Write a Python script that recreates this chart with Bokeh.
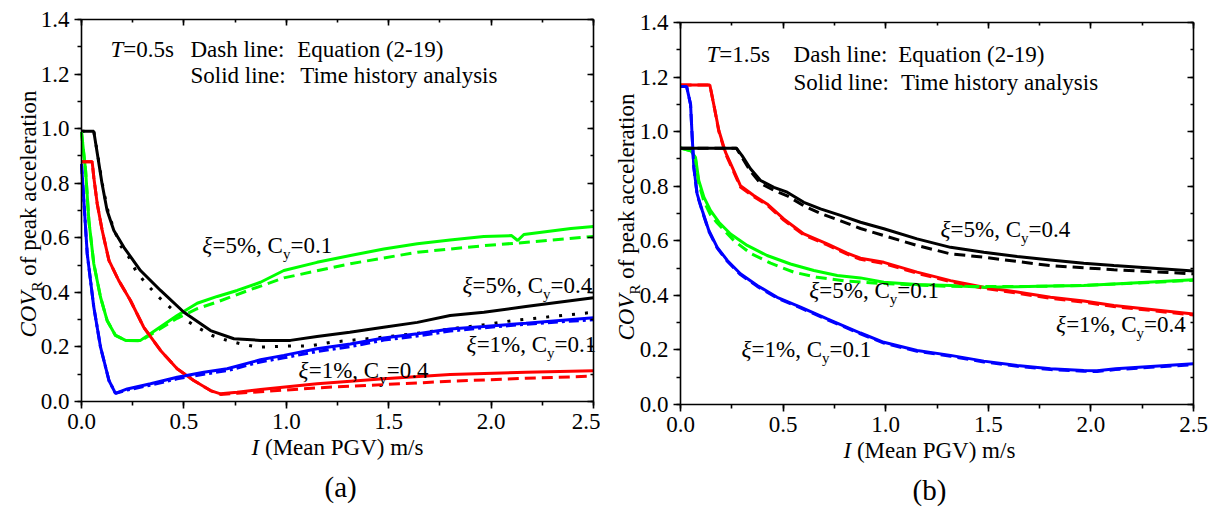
import math
from bokeh.plotting import figure
from bokeh.models import Range1d, LinearAxis, SingleIntervalTicker, PrintfTickFormatter, CustomJSTickFormatter, Label
from bokeh.layouts import row
from bokeh.embed import file_html
from bokeh.resources import INLINE

# ---------------- data: panel (a), T = 0.5 s ----------------
a_k_sol_x = [0, 0.06, 0.077, 0.10, 0.125, 0.158, 0.207, 0.288, 0.386, 0.50, 0.63, 0.744, 0.874, 1.02, 1.15, 1.31, 1.475, 1.64, 1.80, 1.965, 2.17, 2.5]
a_k_sol_y = [0.99, 0.99, 0.91, 0.80, 0.70, 0.627, 0.565, 0.48, 0.407, 0.327, 0.26, 0.23, 0.224, 0.224, 0.238, 0.254, 0.272, 0.29, 0.315, 0.327, 0.348, 0.38]
a_k_eq_x = [0, 0.06, 0.08, 0.106, 0.134, 0.187, 0.231, 0.269, 0.317, 0.378, 0.44, 0.50, 0.565, 0.638, 0.711, 0.79, 0.866, 1.0, 1.12, 1.216, 1.476, 1.64, 1.80, 1.964, 2.11, 2.5]
a_k_eq_y = [0.99, 0.99, 0.90, 0.779, 0.682, 0.575, 0.529, 0.474, 0.431, 0.382, 0.34, 0.303, 0.272, 0.242, 0.224, 0.209, 0.199, 0.203, 0.204, 0.217, 0.236, 0.25, 0.266, 0.281, 0.297, 0.327]

a_g_sol_x = [0, 0.02, 0.036, 0.06, 0.093, 0.125, 0.166, 0.215, 0.288, 0.37, 0.467, 0.565, 0.663, 0.76, 0.874, 0.988, 1.15, 1.313, 1.476, 1.64, 1.80, 1.964, 2.10, 2.13, 2.16, 2.39, 2.5]
a_g_sol_y = [0.987, 0.846, 0.663, 0.505, 0.382, 0.297, 0.242, 0.224, 0.224, 0.266, 0.315, 0.36, 0.385, 0.407, 0.437, 0.48, 0.51, 0.535, 0.559, 0.578, 0.592, 0.605, 0.608, 0.59, 0.612, 0.634, 0.641]
a_g_eq_x = [0, 0.02, 0.036, 0.06, 0.093, 0.125, 0.166, 0.215, 0.288, 0.37, 0.467, 0.565, 0.663, 0.825, 0.988, 1.313, 1.64, 1.964, 2.2, 2.5]
a_g_eq_y = [0.987, 0.846, 0.663, 0.505, 0.382, 0.297, 0.242, 0.224, 0.222, 0.26, 0.305, 0.34, 0.365, 0.41, 0.453, 0.505, 0.547, 0.571, 0.585, 0.605]

a_r_sol_x = [0, 0.052, 0.06, 0.077, 0.101, 0.134, 0.182, 0.239, 0.304, 0.386, 0.467, 0.548, 0.63, 0.679, 0.76, 0.874, 1.15, 1.476, 1.80, 2.17, 2.5]
a_r_sol_y = [0.879, 0.879, 0.822, 0.724, 0.627, 0.517, 0.443, 0.37, 0.272, 0.187, 0.12, 0.077, 0.04, 0.028, 0.034, 0.044, 0.065, 0.083, 0.099, 0.107, 0.113]
a_r_eq_x = [0, 0.052, 0.06, 0.077, 0.101, 0.134, 0.182, 0.239, 0.304, 0.386, 0.467, 0.548, 0.63, 0.679, 0.76, 0.874, 1.15, 1.476, 1.80, 2.17, 2.5]
a_r_eq_y = [0.879, 0.879, 0.822, 0.724, 0.627, 0.517, 0.443, 0.37, 0.272, 0.187, 0.12, 0.077, 0.04, 0.026, 0.03, 0.036, 0.05, 0.062, 0.074, 0.085, 0.093]

a_b_sol_x = [0, 0.028, 0.06, 0.093, 0.134, 0.166, 0.223, 0.337, 0.467, 0.597, 0.711, 0.874, 0.988, 1.15, 1.313, 1.476, 1.64, 1.80, 1.964, 2.17, 2.5]
a_b_sol_y = [0.871, 0.541, 0.346, 0.199, 0.077, 0.03, 0.046, 0.065, 0.089, 0.107, 0.12, 0.153, 0.169, 0.193, 0.211, 0.233, 0.248, 0.266, 0.275, 0.287, 0.307]
a_b_eq_x = [0, 0.028, 0.06, 0.093, 0.134, 0.166, 0.223, 0.337, 0.467, 0.597, 0.711, 0.874, 0.988, 1.15, 1.313, 1.476, 1.64, 1.80, 1.964, 2.17, 2.5]
a_b_eq_y = [0.871, 0.541, 0.346, 0.199, 0.077, 0.03, 0.042, 0.06, 0.083, 0.10, 0.113, 0.145, 0.16, 0.183, 0.201, 0.225, 0.24, 0.258, 0.27, 0.283, 0.30]

# ---------------- data: panel (b), T = 1.5 s ----------------
b_r_sol_x = [0, 0.143, 0.162, 0.187, 0.219, 0.252, 0.292, 0.357, 0.422, 0.503, 0.601, 0.715, 0.812, 0.877, 0.991, 1.153, 1.316, 1.478, 1.641, 1.803, 1.965, 2.112, 2.5]
b_r_sol_y = [1.171, 1.171, 1.10, 1.004, 0.925, 0.87, 0.802, 0.766, 0.735, 0.68, 0.625, 0.589, 0.555, 0.536, 0.521, 0.485, 0.454, 0.43, 0.412, 0.393, 0.379, 0.363, 0.332]
b_r_eq_x = [0, 0.143, 0.162, 0.187, 0.219, 0.252, 0.292, 0.357, 0.422, 0.503, 0.601, 0.715, 0.812, 0.877, 0.991, 1.153, 1.316, 1.478, 1.641, 1.803, 1.965, 2.112, 2.5]
b_r_eq_y = [1.171, 1.171, 1.10, 1.0, 0.92, 0.865, 0.797, 0.762, 0.731, 0.676, 0.621, 0.585, 0.551, 0.532, 0.517, 0.481, 0.45, 0.426, 0.408, 0.389, 0.375, 0.359, 0.328]

b_k_sol_x = [0, 0.273, 0.30, 0.341, 0.39, 0.455, 0.52, 0.601, 0.682, 0.78, 0.877, 0.991, 1.153, 1.316, 1.478, 1.641, 1.803, 1.965, 2.112, 2.5]
b_k_sol_y = [0.939, 0.939, 0.912, 0.864, 0.821, 0.796, 0.778, 0.741, 0.717, 0.693, 0.668, 0.644, 0.607, 0.576, 0.558, 0.542, 0.53, 0.518, 0.509, 0.489]
b_k_eq_x = [0, 0.273, 0.30, 0.341, 0.39, 0.455, 0.52, 0.601, 0.682, 0.78, 0.877, 0.991, 1.153, 1.316, 1.478, 1.641, 1.803, 1.965, 2.112, 2.5]
b_k_eq_y = [0.939, 0.939, 0.905, 0.855, 0.81, 0.785, 0.765, 0.728, 0.70, 0.673, 0.645, 0.619, 0.583, 0.552, 0.54, 0.524, 0.509, 0.501, 0.494, 0.479]

b_g_sol_x = [0, 0.05, 0.073, 0.089, 0.114, 0.146, 0.187, 0.244, 0.325, 0.422, 0.536, 0.65, 0.764, 0.877, 0.991, 1.153, 1.316, 1.478, 1.641, 1.803, 1.965, 2.112, 2.5]
b_g_sol_y = [0.94, 0.93, 0.906, 0.821, 0.76, 0.711, 0.668, 0.625, 0.583, 0.546, 0.515, 0.491, 0.473, 0.464, 0.448, 0.44, 0.436, 0.43, 0.432, 0.434, 0.436, 0.442, 0.457]
b_g_eq_x = [0, 0.05, 0.073, 0.089, 0.114, 0.146, 0.179, 0.26, 0.341, 0.439, 0.552, 0.666, 0.812, 0.991, 1.316, 1.641, 1.965, 2.5]
b_g_eq_y = [0.94, 0.93, 0.9, 0.81, 0.745, 0.695, 0.665, 0.601, 0.554, 0.518, 0.485, 0.466, 0.452, 0.443, 0.433, 0.432, 0.436, 0.455]

b_b_sol_x = [0, 0.03, 0.049, 0.057, 0.065, 0.081, 0.106, 0.138, 0.179, 0.228, 0.292, 0.374, 0.471, 0.585, 0.715, 0.877, 0.991, 1.153, 1.316, 1.478, 1.641, 1.803, 1.965, 2.03, 2.12, 2.5]
b_b_sol_y = [1.165, 1.165, 1.10, 0.98, 0.87, 0.772, 0.711, 0.638, 0.576, 0.528, 0.479, 0.436, 0.393, 0.357, 0.314, 0.262, 0.228, 0.198, 0.18, 0.159, 0.143, 0.131, 0.125, 0.124, 0.131, 0.149]
b_b_eq_x = [0, 0.03, 0.049, 0.057, 0.065, 0.081, 0.106, 0.138, 0.179, 0.228, 0.292, 0.374, 0.471, 0.585, 0.715, 0.877, 0.991, 1.153, 1.316, 1.478, 1.641, 1.803, 1.965, 2.03, 2.12, 2.5]
b_b_eq_y = [1.165, 1.165, 1.10, 0.98, 0.867, 0.769, 0.708, 0.635, 0.573, 0.525, 0.476, 0.433, 0.39, 0.354, 0.311, 0.259, 0.225, 0.195, 0.177, 0.156, 0.14, 0.128, 0.122, 0.121, 0.128, 0.146]

X_MIN, X_MAX = 0.0, 2.5
Y_MIN, Y_MAX = 0.0, 1.4
x_ticks_interval = 0.5
y_ticks_interval = 0.2

# ---------------- text helpers ----------------
FONT = "Liberation Serif"
FS = 23
BASE_FIX = 0.35   # renderer puts the alphabetic baseline this many em too low
WID = {' ': 250, '!': 333, '%': 833, '(': 333, ')': 333, ',': 250, '-': 333, '.': 250, '/': 278,
       ':': 278, '=': 564, 'A': 722, 'C': 667, 'D': 722, 'E': 611, 'G': 722, 'I': 333, 'M': 889,
       'O': 722, 'P': 556, 'R': 667, 'S': 556, 'T': 611, 'V': 722, 'a': 444, 'c': 444, 'd': 500,
       'e': 444, 'h': 500, 'i': 278, 'k': 500, 'l': 278, 'm': 778, 'n': 500, 'o': 500, 'p': 500,
       'q': 500, 'r': 333, 's': 389, 't': 278, 'u': 500, 'y': 500, 'v': 500, 'f': 333, 'ξ': 440}
WID_IT = {'C': 667, 'O': 722, 'V': 611, 'T': 556, 'I': 333, 'ξ': 440}


def tw(s, size, italic=False):
    tot = 0
    for c in s:
        if italic and c in WID_IT:
            tot += WID_IT[c]
        else:
            tot += WID.get(c, 500)
    return tot / 1000.0 * size


def rich(p, x, y, pieces, sx, sy, angle=0.0, align="left"):
    """Place a run of text pieces with baseline start at data point (x, y); offsets in pixels."""
    total = sum(tw(t, s, it) for t, s, it, _ in pieces)
    cur = -total / 2 if align == "center" else 0.0
    for text, size, italic, dy in pieces:
        lead = len(text) - len(text.lstrip(' '))
        cur += tw(' ' * lead, size, italic)
        t = text.strip(' ')
        down = dy - BASE_FIX * size
        if angle == 0:
            lx, ly = x + cur / sx, y - down / sy
        else:
            lx, ly = x + down / sx, y + cur / sy
        p.add_layout(Label(x=lx, y=ly, text=t, text_font=FONT, text_font_size=f"{size}px",
                           text_font_style="italic" if italic else "normal", angle=angle,
                           text_align="left", text_baseline="alphabetic", text_color="black"))
        cur += tw(t, size, italic)


def ann(p, x, y, damp, cy, sx, sy):
    rich(p, x, y, [("ξ", FS, True, 0), ("=" + damp + ", C", FS, False, 0), ("y", 15, False, 6),
                   ("=" + cy, FS, False, 0)], sx, sy)


def make_panel(width, left_px, right_px, top_px, bottom_px):
    """Frame spans the whole canvas; the axes box sits at the given pixel margins."""
    height = 507
    sx = (width - left_px - right_px) / (X_MAX - X_MIN)
    sy = (height - top_px - bottom_px) / (Y_MAX - Y_MIN)
    xr = Range1d(X_MIN - left_px / sx, X_MAX + right_px / sx)
    yr = Range1d(Y_MIN - bottom_px / sy, Y_MAX + top_px / sy)
    p = figure(width=width, height=height, output_backend="svg", toolbar_location=None,
               x_range=xr, y_range=yr, x_axis_location=None, y_axis_location=None,
               min_border=0)
    p.title.visible = False
    p.grid.visible = False
    p.outline_line_color = None
    p.background_fill_color = "white"
    p.border_fill_color = "white"
    xb = (X_MIN, X_MAX + 1e-7)
    yb = (Y_MIN, Y_MAX + 1e-7)
    specs = [
        ("below", x_ticks_interval, Y_MIN, xb, True),
        ("left", y_ticks_interval, X_MIN, yb, True),
        ("above", x_ticks_interval, Y_MAX, xb, False),
        ("right", y_ticks_interval, X_MAX, yb, False),
    ]
    for loc, iv, fixed, bounds, labelled in specs:
        ax = LinearAxis(ticker=SingleIntervalTicker(interval=iv, num_minor_ticks=2),
                        fixed_location=fixed, bounds=bounds,
                        axis_line_width=1.6, axis_line_color="black",
                        major_tick_line_width=1.6, minor_tick_line_width=1.6)
        if labelled:
            ax.formatter = PrintfTickFormatter(format="%.1f")
            ax.major_label_text_font = FONT
            ax.major_label_text_font_size = "23px"
            ax.major_label_text_color = "black"
            ax.major_label_standoff = 5
            ax.major_tick_in, ax.major_tick_out = 0, 7
            ax.minor_tick_in, ax.minor_tick_out = 0, 4
        else:
            ax.formatter = CustomJSTickFormatter(code="return ''")
            ax.major_label_text_font_size = "0px"
            ax.major_tick_in, ax.major_tick_out = 6, 0
            ax.minor_tick_in, ax.minor_tick_out = 3, 0
        p.add_layout(ax, loc)
    return p, sx, sy


def draw(p, xs, ys, color, dash="solid", lw=3):
    p.line(xs, ys, line_color=color, line_width=lw, line_dash=dash)


BLACK, RED, GREEN, BLUE = "#000000", "#ff0000", "#00ff00", "#0000ff"
DASH = "11 6"

# ---------------- panel (a) ----------------
pa, sxa, sya = make_panel(600, 81, 7, 19, 106)
draw(pa, a_k_eq_x, a_k_eq_y, BLACK, "3 10", 3)
draw(pa, a_b_eq_x, a_b_eq_y, BLUE, "10 4 3 4", 3)
draw(pa, a_g_sol_x, a_g_sol_y, GREEN)
draw(pa, a_r_sol_x, a_r_sol_y, RED)
draw(pa, a_b_sol_x, a_b_sol_y, BLUE)
draw(pa, a_k_sol_x, a_k_sol_y, BLACK)
draw(pa, a_g_eq_x, a_g_eq_y, GREEN, DASH)
draw(pa, a_r_eq_x, a_r_eq_y, RED, DASH)

rich(pa, 0.142, 1.26, [("T", FS, True, 0), ("=0.5s", FS, False, 0)], sxa, sya)
rich(pa, 0.532, 1.26, [("Dash line:", FS, False, 0)], sxa, sya)
rich(pa, 1.053, 1.26, [("Equation (2-19)", FS, False, 0)], sxa, sya)
rich(pa, 0.532, 1.165, [("Solid line:", FS, False, 0)], sxa, sya)
rich(pa, 1.068, 1.165, [("Time history analysis", FS, False, 0)], sxa, sya)
ann(pa, 0.59, 0.542, "5%", "0.1", sxa, sya)
ann(pa, 1.86, 0.396, "5%", "0.4", sxa, sya)
ann(pa, 1.88, 0.18, "1%", "0.1", sxa, sya)
ann(pa, 1.06, 0.084, "1%", "0.4", sxa, sya)
rich(pa, 1.25, -0.198, [("I", FS, True, 0), (" (Mean PGV) m/s", FS, False, 0)], sxa, sya, align="center")
rich(pa, 1.265, -0.352, [("(a)", 29, False, 0)], sxa, sya, align="center")
rich(pa, -0.22, 0.2345, [("COV", FS, True, 0), ("R", 15, False, 6), (" of peak acceleration", FS, False, 0)],
     sxa, sya, angle=math.pi / 2)

# ---------------- panel (b) ----------------
pb, sxb, syb = make_panel(615, 80, 22, 22, 103)
draw(pb, b_r_sol_x, b_r_sol_y, RED)
draw(pb, b_g_sol_x, b_g_sol_y, GREEN)
draw(pb, b_b_sol_x, b_b_sol_y, BLUE)
draw(pb, b_r_eq_x, b_r_eq_y, RED, DASH)
draw(pb, b_g_eq_x, b_g_eq_y, GREEN, DASH)
draw(pb, b_b_eq_x, b_b_eq_y, BLUE, DASH)
draw(pb, b_k_sol_x, b_k_sol_y, BLACK)
draw(pb, b_k_eq_x, b_k_eq_y, BLACK, DASH)

rich(pb, 0.127, 1.253, [("T", FS, True, 0), ("=1.5s", FS, False, 0)], sxb, syb)
rich(pb, 0.551, 1.253, [("Dash line:", FS, False, 0)], sxb, syb)
rich(pb, 1.061, 1.253, [("Equation (2-19)", FS, False, 0)], sxb, syb)
rich(pb, 0.551, 1.15, [("Solid line:", FS, False, 0)], sxb, syb)
rich(pb, 1.074, 1.15, [("Time history analysis", FS, False, 0)], sxb, syb)
ann(pb, 1.267, 0.612, "5%", "0.4", sxb, syb)
ann(pb, 0.627, 0.388, "5%", "0.1", sxb, syb)
ann(pb, 1.83, 0.264, "1%", "0.4", sxb, syb)
ann(pb, 0.297, 0.172, "1%", "0.1", sxb, syb)
rich(pb, 1.213, -0.198, [("I", FS, True, 0), (" (Mean PGV) m/s", FS, False, 0)], sxb, syb, align="center")
rich(pb, 1.213, -0.352, [("(b)", 29, False, 0)], sxb, syb, align="center")
rich(pb, -0.224, 0.2345, [("COV", FS, True, 0), ("R", 15, False, 6), (" of peak acceleration", FS, False, 0)],
     sxb, syb, angle=math.pi / 2)

layout = row(pa, pb)
open("out.html", "w").write(file_html(layout, INLINE))
